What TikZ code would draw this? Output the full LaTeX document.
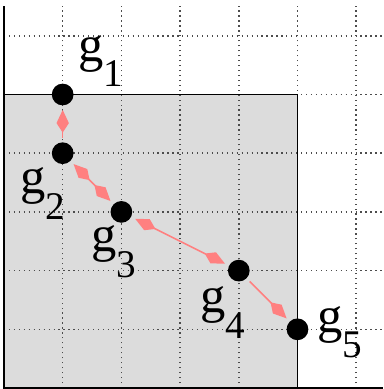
\documentclass[tikz,border=0pt]{standalone}
\usepackage{fontspec}
\newfontfamily\labfont{Liberation Serif}
\usetikzlibrary{arrows.meta}
\definecolor{salmonred}{HTML}{FF8080}
\definecolor{boxgray}{HTML}{DCDCDC}
\newcommand\glab[1]{\labfont\fontsize{24.5}{28}\selectfont g\raisebox{-12.5pt}{\fontsize{19}{22}\selectfont #1}}
\begin{document}
\begin{tikzpicture}[
  dot/.style={circle,fill=black,inner sep=0pt,minimum size=0.37cm},
  lab/.style={anchor=base west,inner sep=0pt},
  gridline/.style={dash pattern=on 0.6pt off 1.8pt,line width=0.7pt,black!70},
  link/.style={salmonred,line width=0.75pt,shorten <=2pt,shorten >=2pt,
    >={Kite[length=11pt,width=6pt,inset=4.6pt]}}
]
\useasboundingbox (-0.068,-0.017) rectangle (6.457,6.61);
\fill[boxgray] (0,0) rectangle (5,5);
\foreach \i in {1,...,6} {
  \draw[gridline] (\i,0) -- (\i,6.5);
  \draw[gridline] (0,\i) -- (6.46,\i);
}
\draw[line width=0.7pt] (0,5) -- (5,5) -- (5,0);
\draw[line width=0.8pt] (0,6.5) -- (0,0) -- (6.46,0);
\node[dot] (g1) at (1,5) {};
\node[dot] (g2) at (1,4) {};
\node[dot] (g3) at (2,3) {};
\node[dot] (g4) at (4,2) {};
\node[dot] (g5) at (5,1) {};
\draw[link,->] (g2) -- (g1);
\draw[link,<->] (g2) -- (g3);
\draw[link,<->] (g3) -- (g4);
\draw[link,->] (g4) -- (g5);
\node[lab] (l1) at (1.26,5.57) {\glab{1}};
\node[lab] (l2) at (0.273,3.31) {\glab{2}};
\node[lab] (l3) at (1.48,2.33) {\glab{3}};
\node[lab] (l4) at (3.34,1.28) {\glab{4}};
\node[lab] (l5) at (5.33,0.954) {\glab{5}};
\end{tikzpicture}
\end{document}
